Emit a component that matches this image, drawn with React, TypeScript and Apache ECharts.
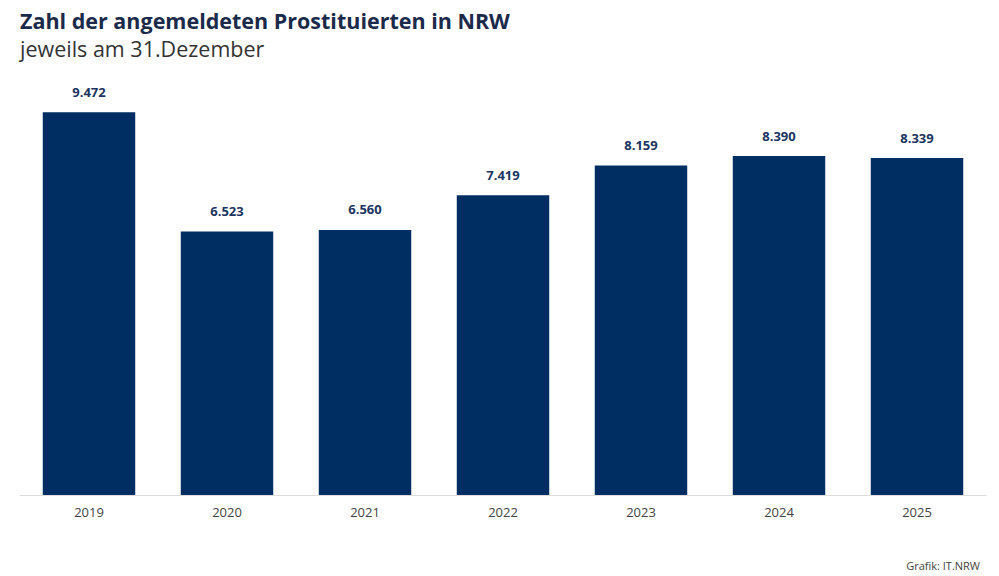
import React, { useEffect, useRef } from 'react'
import * as echarts from 'echarts'

const years = ['2019', '2020', '2021', '2022', '2023', '2024', '2025']
const counts = [9472, 6523, 6560, 7419, 8159, 8390, 8339]

const fmt = (v: number) => v.toLocaleString('de-DE')

const App = () => {
  const chartRef = useRef<HTMLDivElement>(null)

  useEffect(() => {
    if (!chartRef.current) return
    const chart = echarts.init(chartRef.current, undefined, { renderer: 'svg' })
    chart.setOption({
      animation: false,
      textStyle: { fontFamily: 'Open Sans' },
      title: [
        {
          text: 'Zahl der angemeldeten Prostituierten in NRW',
          left: 15,
          top: 4,
          textStyle: { fontSize: 21.5, fontWeight: 'bold', color: '#1b2a4a', fontFamily: 'Open Sans' },
        },
        {
          text: 'jeweils am 31.Dezember',
          left: 15,
          top: 32,
          textStyle: { fontSize: 21.5, fontWeight: 'normal', color: '#333', fontFamily: 'Open Sans' },
        },
        {
          text: 'Grafik: IT.NRW',
          right: 14,
          top: 555,
          textStyle: { fontSize: 11, fontWeight: 'normal', color: '#444', fontFamily: 'Open Sans' },
        },
      ],
      grid: { left: 20, right: 13, top: 91, bottom: 81 },
      xAxis: {
        type: 'category',
        data: years,
        axisLine: { lineStyle: { color: '#dddddd' } },
        axisTick: { show: false },
        axisLabel: { color: '#444', fontSize: 13, margin: 10 },
      },
      yAxis: { type: 'value', min: 0, max: 10000, show: false, splitLine: { show: false } },
      series: [
        {
          type: 'bar',
          data: counts,
          barWidth: '67%',
          itemStyle: { color: '#002d62' },
          label: {
            show: true,
            position: 'top',
            distance: 14,
            color: '#1b3560',
            fontWeight: 'bold',
            fontSize: 13,
            formatter: (p: any) => fmt(p.value),
          },
        },
      ],
    })
    return () => chart.dispose()
  }, [])

  return (
    <div
      ref={chartRef}
      style={{ position: 'absolute', left: 0, top: 0, width: 999, height: 576, background: '#fff' }}
    />
  )
}

export default App
